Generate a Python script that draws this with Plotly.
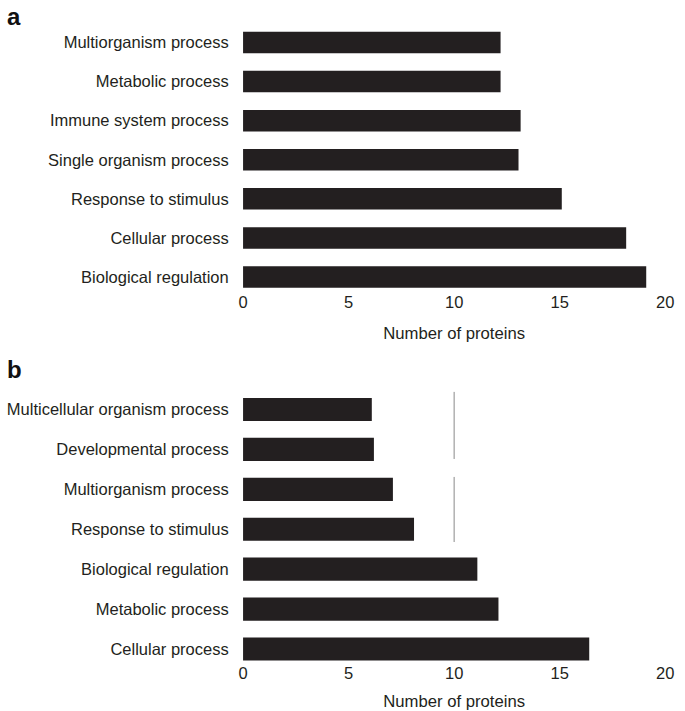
import plotly.graph_objects as go
from plotly.subplots import make_subplots

# Panel a (bottom to top)
cats_a = ["Biological regulation", "Cellular process", "Response to stimulus",
          "Single organism process", "Immune system process", "Metabolic process",
          "Multiorganism process"]
vals_a = [19.1, 18.15, 15.1, 13.05, 13.15, 12.2, 12.2]

# Panel b (bottom to top)
cats_b = ["Cellular process", "Metabolic process", "Biological regulation",
          "Response to stimulus", "Multiorganism process", "Developmental process",
          "Multicellular organism process"]
vals_b = [16.4, 12.1, 11.1, 8.1, 7.1, 6.2, 6.1]

x_ticks = [0, 5, 10, 15, 20]
# faint leftover gridline pieces at x = 10 in panel b (category units)
grid_x_b = 10
grid_segments_b = [(4.76, 6.44), (2.68, 4.31)]

BAR = "#231f20"
TXT = "#231f20"
FONT = "Liberation Sans, Arial, Helvetica, sans-serif"
W, H = 685, 711

fig = make_subplots(rows=2, cols=1)

fig.add_trace(go.Bar(y=cats_a, x=vals_a, orientation="h", marker_color=BAR,
                     marker_line_width=0, width=0.55), row=1, col=1)
fig.add_trace(go.Bar(y=cats_b, x=vals_b, orientation="h", marker_color=BAR,
                     marker_line_width=0, width=0.58), row=2, col=1)

xd = [243 / W, 674 / W]
title_font = dict(size=16.7, family=FONT, color=TXT)
fig.update_layout(
    width=W, height=H, margin=dict(l=0, r=0, t=0, b=0),
    paper_bgcolor="white", plot_bgcolor="white", showlegend=False,
    font=dict(family=FONT, size=16.5, color=TXT),
    xaxis=dict(domain=xd, range=[0, 20], tickvals=x_ticks, showgrid=False,
               zeroline=False, showline=False, ticks="",
               title=dict(text="Number of proteins", standoff=17, font=title_font)),
    xaxis2=dict(domain=xd, range=[0, 20], tickvals=x_ticks, showgrid=False,
                zeroline=False, showline=False, ticks="",
                title=dict(text="Number of proteins", standoff=17, font=title_font)),
    yaxis=dict(domain=[1 - 290.7 / H, 1 - 23 / H], range=[-0.35, 6.5],
               showgrid=False, zeroline=False, showline=False,
               ticks="outside", ticklen=10, tickcolor="rgba(0,0,0,0)"),
    yaxis2=dict(domain=[1 - 661 / H, 1 - 389.5 / H], range=[-0.3, 6.5],
                showgrid=False, zeroline=False, showline=False,
                ticks="outside", ticklen=10, tickcolor="rgba(0,0,0,0)"),
)

for y0, y1 in grid_segments_b:
    fig.add_shape(type="line", xref="x2", yref="y2", x0=grid_x_b, x1=grid_x_b,
                  y0=y0, y1=y1, line=dict(color="#8a8a8a", width=1), layer="below")

fig.add_annotation(text="<b>a</b>", xref="paper", yref="paper", x=0 / W, y=1 - 1 / H,
                   xanchor="left", yanchor="top", showarrow=False,
                   font=dict(size=24, family=FONT, color="#111"))
fig.add_annotation(text="<b>b</b>", xref="paper", yref="paper", x=0 / W, y=1 - 354 / H,
                   xanchor="left", yanchor="top", showarrow=False,
                   font=dict(size=24, family=FONT, color="#111"))

fig.write_html("out.html", config={"displayModeBar": False},
               post_script="document.body.style.margin='0';document.body.style.overflow='hidden';")
